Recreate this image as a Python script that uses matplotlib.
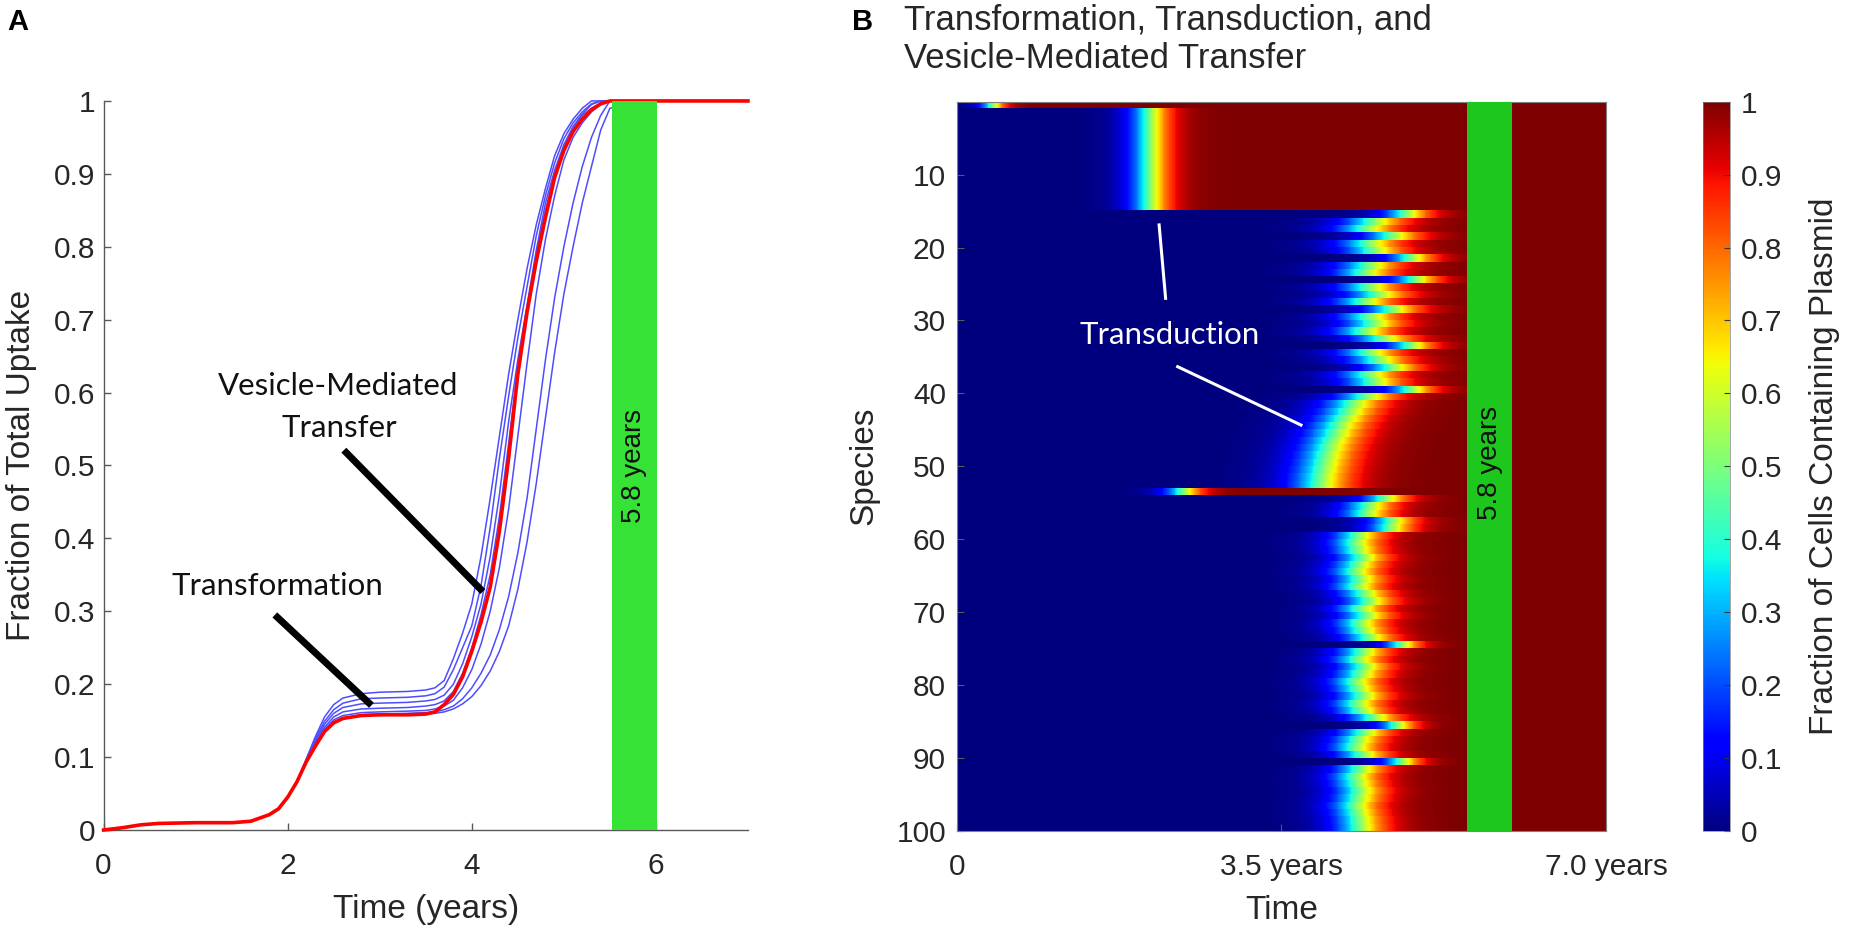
import numpy as np
import matplotlib
matplotlib.use("Agg")
import matplotlib.pyplot as plt

plt.rcParams['font.family'] = ['Liberation Sans', 'DejaVu Sans']

# ---- panel A: fraction of total uptake vs time ----
t_years = [0, 0.2, 0.4, 0.6, 1.0, 1.4, 1.6, 1.8, 1.9, 2.0, 2.1,
           2.2, 2.3, 2.4, 2.5, 2.6, 2.8, 3.0, 3.3, 3.5, 3.6, 3.7, 3.8, 3.9,
           4.0, 4.1, 4.2, 4.3, 4.4, 4.5, 4.6, 4.7, 4.8, 4.9,
           5.0, 5.1, 5.2, 5.3, 5.4, 5.5, 6.0, 7.0]

early = [0, .003, .007, .009, .010, .010, .012, .021, .029, .045, .066]

uptake_red = early + [.093, .115, .135, .147, .153, .157, .158, .158,
                      .159, .162, .172, .186, .21,
                      .245, .285, .333, .41, .51, .625, .71, .78, .84, .895,
                      .932, .958, .975, .988, .996, 1, 1, 1]

uptake_blue = [
    early + [.097, .128, .155, .172, .181, .187, .189, .19,
             .192, .195, .205, .235, .27,
             .31, .375, .455, .54, .625, .70, .77, .83, .88, .925,
             .955, .975, .99, 1, 1, 1, 1, 1],
    early + [.096, .125, .149, .165, .174, .18, .181, .182,
             .184, .187, .196, .22, .25,
             .28, .335, .415, .51, .595, .675, .745, .815, .87, .915,
             .948, .97, .985, .996, 1, 1, 1, 1],
    early + [.095, .122, .145, .16, .168, .173, .174, .175,
             .177, .179, .185, .2, .228,
             .265, .31, .375, .46, .56, .645, .72, .795, .86, .905,
             .94, .965, .982, .995, 1, 1, 1, 1],
    early + [.094, .12, .141, .155, .162, .166, .167, .168,
             .17, .172, .177, .19, .215,
             .25, .295, .35, .43, .53, .635, .715, .79, .85, .9,
             .937, .962, .98, .99, .997, 1, 1, 1],
    early + [.094, .118, .138, .151, .157, .161, .162, .163,
             .164, .166, .17, .178, .195,
             .22, .255, .3, .36, .44, .54, .64, .735, .81, .87,
             .919, .95, .97, .985, .995, 1, 1, 1],
    early + [.093, .116, .136, .148, .154, .158, .159, .16,
             .161, .162, .165, .17, .18,
             .195, .215, .24, .275, .32, .38, .455, .55, .645, .73,
             .8, .86, .91, .95, .98, 1, 1, 1],
    early + [.093, .115, .135, .147, .153, .157, .158, .159,
             .159, .16, .162, .166, .173,
             .183, .198, .218, .245, .28, .33, .395, .475, .565, .655,
             .735, .8, .86, .91, .96, .99, 1, 1],
]

window_a = (5.52, 6.01)
window_b = (5.50, 5.99)

# ---- panel B: per-species transition time (years) and spread ----
transition_mid = ([0.38] + [2.08] * 14 +
                  [4.85, 4.5, 4.42, 4.7, 4.45, 4.5, 4.9, 4.45, 4.4, 4.95,
                   4.45, 4.55, 4.4, 4.7, 4.45, 4.5, 4.4, 4.6, 4.9, 4.45,
                   4.55, 4.7, 4.45, 4.5, 4.9, 4.42] +
                  [4.28, 4.23, 4.18, 4.13, 4.09, 4.05, 4.02, 3.99, 3.97,
                   3.95, 3.93, 3.92] +
                  [2.44] +
                  [4.62, 4.45, 4.42, 4.7, 4.68] +
                  [4.33, 4.3, 4.32, 4.38, 4.33, 4.3, 4.35, 4.32, 4.4, 4.45,
                   4.36, 4.42, 4.35, 4.38, 4.45, 4.8, 4.38, 4.33, 4.4, 4.36,
                   4.3, 4.33, 4.38, 4.32, 4.36, 4.5, 4.75, 4.4, 4.33, 4.3,
                   4.38, 4.8, 4.35, 4.3, 4.32, 4.35, 4.33, 4.3, 4.32, 4.34,
                   4.35])

transition_width = ([0.08] + [0.13] * 14 +
                    [0.15, 0.2, 0.2, 0.18, 0.2, 0.2, 0.15, 0.2, 0.2, 0.15,
                     0.2, 0.2, 0.2, 0.18, 0.2, 0.2, 0.2, 0.2, 0.15, 0.2,
                     0.2, 0.18, 0.2, 0.2, 0.15, 0.2] +
                    [0.2] * 12 +
                    [0.12] +
                    [0.15, 0.17, 0.17, 0.15, 0.15] +
                    [0.17] * 15 + [0.12] + [0.17] * 10 + [0.12] +
                    [0.17] * 4 + [0.12] + [0.17] * 9)

species_ticks = list(range(10, 101, 10))
frac_ticks = [i / 10 for i in range(11)]

txt_col = '#262626'
green_a = '#36e236'
green_b = '#1dc71d'

fig = plt.figure(figsize=(18.5, 9.39), dpi=100)

# ================= panel A =================
ax = fig.add_axes([0.056, 0.1161, 0.3483, 0.7764])
for curve in uptake_blue:
    ax.plot(t_years, curve, color=(0.3, 0.3, 1.0), lw=1.1, clip_on=False, zorder=2)
ax.plot(t_years, uptake_red, color='red', lw=2.6, clip_on=False, zorder=3)
ax.axvspan(window_a[0], window_a[1], color=green_a, lw=0, zorder=4)
ax.text(sum(window_a) / 2, 0.5, '5.8 years', rotation=90, ha='center', va='center',
        fontsize=20, color='#111111', zorder=5)

ax.set_xlim(0, 7)
ax.set_ylim(0, 1)
ax.set_xticks([0, 2, 4, 6])
ax.set_yticks(frac_ticks)
ax.set_yticklabels(['%g' % v for v in frac_ticks])
for s in ['top', 'right']:
    ax.spines[s].set_visible(False)
for s in ['left', 'bottom']:
    ax.spines[s].set_color('0.35')
    ax.spines[s].set_linewidth(1.0)
ax.tick_params(direction='in', length=5, width=1, color='0.35', labelcolor=txt_col,
               labelsize=21.5)
ax.tick_params(axis='x', pad=16)
ax.tick_params(axis='y', pad=6)
ax.set_xlabel('Time (years)', fontsize=24, color=txt_col, labelpad=10)
ax.set_ylabel('Fraction of Total Uptake', fontsize=24, color=txt_col, labelpad=12)

ann_font = dict(family=['Lato', 'DejaVu Sans'], fontsize=22.5, color='#111111',
                ha='center', va='center')
ax.text(2.55, 0.609, 'Vesicle-Mediated', **ann_font)
ax.text(2.56, 0.552, 'Transfer', **ann_font)
ax.text(1.89, 0.334, 'Transformation', **ann_font)
ax.plot([2.61, 4.12], [0.521, 0.327], color='black', lw=5, solid_capstyle='butt', zorder=6)
ax.plot([1.86, 2.91], [0.295, 0.171], color='black', lw=5, solid_capstyle='butt', zorder=6)

fig.text(0.004, 0.992, 'A', fontsize=21, fontweight='bold', va='top', ha='left')

# ================= panel B =================
bx = fig.add_axes([0.5173, 0.1153, 0.3508, 0.7764])
t_grid = np.linspace(0, 7, 701)
mid = np.array(transition_mid)[:, None]
wid = np.array(transition_width)[:, None]
heat = 1.0 / (1.0 + np.exp(-(t_grid[None, :] - mid) / wid))
im = bx.imshow(heat, extent=[0, 7, 100, 0], aspect='auto', cmap='jet',
               vmin=0, vmax=1, interpolation='nearest')
bx.axvspan(window_b[0], window_b[1], color=green_b, lw=0, zorder=3)
bx.text(sum(window_b) / 2, 49.6, '5.8 years', rotation=90, ha='center', va='center',
        fontsize=20, color='#111111', zorder=5)

bx.set_xlim(0, 7)
bx.set_ylim(100, 0)
bx.set_xticks([0, 3.5, 7])
bx.set_xticklabels(['0', '3.5 years', '7.0 years'])
bx.set_yticks(species_ticks)
for s in bx.spines.values():
    s.set_color('0.5')
    s.set_linewidth(0.8)
bx.tick_params(direction='in', length=5, color='0.35', labelcolor=txt_col, labelsize=21.5)
bx.tick_params(axis='x', pad=16)
bx.tick_params(axis='y', pad=8)
bx.set_xlabel('Time', fontsize=24, color=txt_col, labelpad=10)
bx.set_ylabel('Species', fontsize=24, color=txt_col, labelpad=12)

wfont = dict(family=['Lato', 'DejaVu Sans'], fontsize=22.5, color='white',
             ha='center', va='center')
bx.text(2.29, 32.0, 'Transduction', **wfont)
bx.plot([2.18, 2.25], [16.9, 26.97], color='white', lw=2.2, zorder=6)
bx.plot([2.38, 3.71], [36.35, 44.35], color='white', lw=2.2, zorder=6)

fig.text(0.4605, 0.991, 'B', fontsize=21, fontweight='bold', va='top', ha='left')
fig.text(0.4886, 0.9691, 'Transformation, Transduction, and',
         fontsize=25, color=txt_col, va='baseline', ha='left')
fig.text(0.4886, 0.9276, 'Vesicle-Mediated Transfer',
         fontsize=25, color=txt_col, va='baseline', ha='left')

# colorbar
cax = fig.add_axes([0.9208, 0.1153, 0.0143, 0.7764])
cb = fig.colorbar(im, cax=cax, ticks=frac_ticks)
cb.ax.set_yticklabels(['%g' % v for v in frac_ticks])
cb.ax.tick_params(direction='in', length=4, color='0.2', labelcolor=txt_col,
                  labelsize=21.5, pad=8)
cb.outline.set_linewidth(0.5)
cb.outline.set_edgecolor('0.5')
fig.text(0.986, 0.503, 'Fraction of Cells Containing Plasmid', rotation=90,
         fontsize=24, color=txt_col, ha='center', va='center')

fig.savefig('out.png', dpi=100)
